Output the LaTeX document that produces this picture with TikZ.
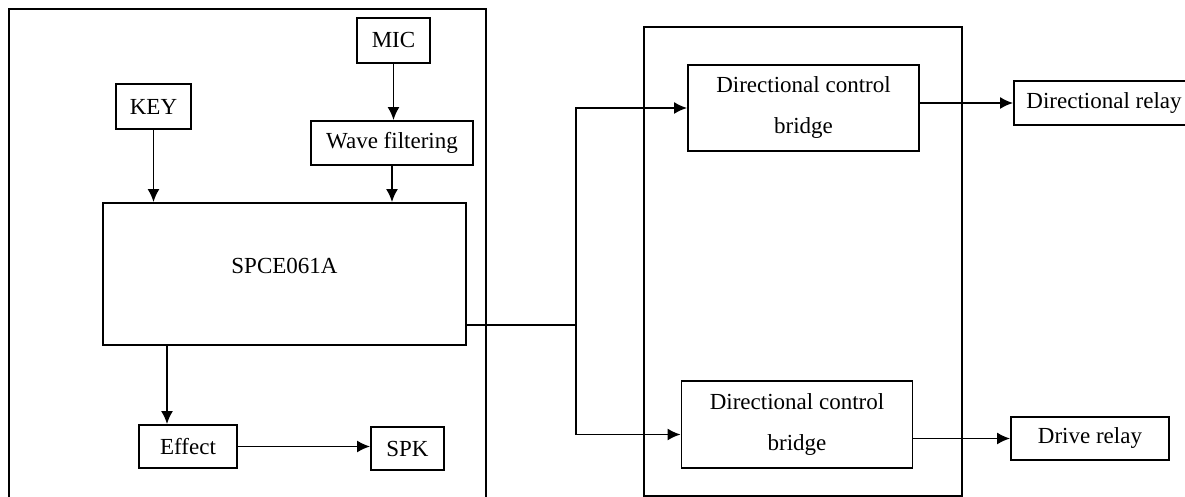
\documentclass[tikz,border=0pt]{standalone}
\usepackage{fontspec}
\setmainfont{Liberation Serif}
\usepackage{tikz}
\usetikzlibrary{calc, arrows, arrows.meta}
\tikzstyle{blk}=[draw, inner sep=0pt, minimum height=22pt]
\tikzstyle{frame}=[draw, inner sep=0pt]

\begin{document}
\begin{tikzpicture}[x=0.5pt,y=-0.5pt,>={Latex[length=6.5pt,width=6pt]},line width=0.9pt,font=\fontsize{11.5}{14}\selectfont]
      \useasboundingbox (0,0) rectangle (1185,497);
      \node [frame, minimum width=238.5pt, minimum height=260.5pt] (chip) at (247.5,269.5) {};
      \node [frame, minimum width=159pt, minimum height=234.5pt] (board) at (803,261.5) {};
      \node [blk, minimum width=36.5pt, minimum height=22.5pt] (mic) at (393.5,40.5) {MIC};
      \node [blk, minimum width=37.5pt, minimum height=22.5pt] (key) at (153.5,106.5) {KEY};
      \node [blk, minimum width=81pt] (wave) at (392,143) {Wave filtering};
      \node [blk, minimum width=181.5pt, minimum height=71pt, label={[yshift=4pt]center:SPCE061A}] (spce) at (284.5,274) {};
      \node [blk, minimum width=49pt, minimum height=21.5pt] (effect) at (188,446.5) {Effect};
      \node [blk, minimum width=36.5pt, minimum height=21.5pt] (spk) at (407.5,448.5) {SPK};
      \node [blk, minimum width=115.5pt, minimum height=43pt, align=center] (dcbA) at (803.5,108) {Directional control\\[6.5pt]bridge};
      \node [blk, minimum width=115.5pt, minimum height=43.5pt, align=center] (dcbB) at (797,424.5) {Directional control\\[6.5pt]bridge};
      \node [blk, minimum width=90pt] (dirrelay) at (1104,103) {Directional relay};
      \node [blk, minimum width=79pt, minimum height=21.5pt] (driverelay) at (1090,438.5) {Drive relay};
      \coordinate (split) at (576,325);
      \coordinate (eff) at ([xshift=-10.5pt]effect.north);
      \draw[->] (key) -- (key |- spce.north);
      \draw[->] (mic) -- (mic |- wave.north);
      \draw[->] (wave) -- (wave |- spce.north);
      \draw[->] (spce.south -| eff) -- (eff);
      \draw[->] (effect.east) -- (effect.east -| spk.west);
      \draw[line width=1.3pt] (spce.east |- split) -- (split);
      \draw[->] (split) |- (dcbA);
      \draw[->] (split) |- ([yshift=-5pt]dcbB.west);
      \draw[->] (dcbA.east |- dirrelay) -- (dirrelay);
      \draw[->] (dcbB.east |- driverelay) -- (driverelay);
  \end{tikzpicture}
\end{document}
